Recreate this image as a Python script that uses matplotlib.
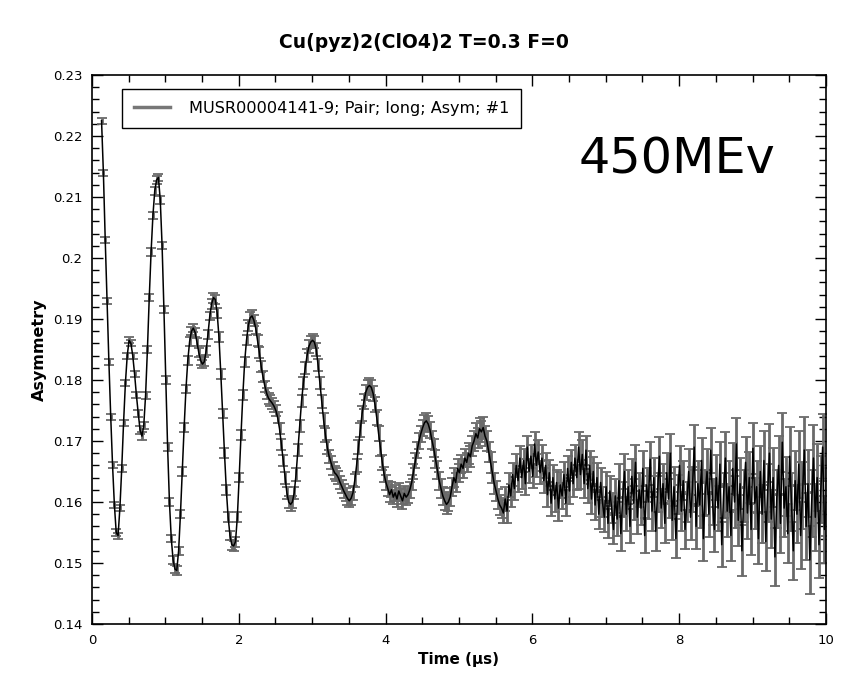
import numpy as np
import matplotlib
matplotlib.use('Agg')
import matplotlib.pyplot as plt
from matplotlib.ticker import MultipleLocator
from matplotlib.lines import Line2D

TITLE = 'Cu(pyz)2(ClO4)2 T=0.3 F=0'
RUN_LABEL = 'MUSR00004141-9; Pair; long; Asym; #1'
NOTE = '450MEv'

# time bins (us): first bin and bin width
t_first = 0.13
t_step = 0.025

# asymmetry, one row per 0.5 us
asym = [
    0.2225, 0.2140, 0.2030, 0.1930, 0.1830, 0.1740, 0.1660, 0.1595, 0.1550, 0.1545, 0.1590, 0.1655, 0.1730, 0.1795, 0.1840, 0.1865, 0.1860, 0.1840, 0.1810, 0.1775,
    0.1745, 0.1718, 0.1708, 0.1725, 0.1775, 0.1850, 0.1935, 0.2010, 0.2070, 0.2110, 0.2128, 0.2132, 0.2095, 0.2020, 0.1915, 0.1800, 0.1690, 0.1600, 0.1540, 0.1505,
    0.1490, 0.1488, 0.1520, 0.1580, 0.1650, 0.1722, 0.1785, 0.1832, 0.1863, 0.1880, 0.1885, 0.1878, 0.1862, 0.1845, 0.1832, 0.1826, 0.1830, 0.1848, 0.1875, 0.1905,
    0.1925, 0.1935, 0.1932, 0.1910, 0.1870, 0.1810, 0.1745, 0.1680, 0.1620, 0.1575, 0.1545, 0.1530, 0.1528, 0.1535, 0.1575, 0.1640, 0.1710, 0.1775, 0.1830, 0.1865,
    0.1890, 0.1902, 0.1905, 0.1898, 0.1885, 0.1865, 0.1845, 0.1822, 0.1805, 0.1790, 0.1778, 0.1770, 0.1766, 0.1762, 0.1757, 0.1750, 0.1738, 0.1720, 0.1695, 0.1668,
    0.1640, 0.1615, 0.1600, 0.1596, 0.1600, 0.1615, 0.1645, 0.1685, 0.1725, 0.1765, 0.1795, 0.1820, 0.1840, 0.1855, 0.1862, 0.1865, 0.1862, 0.1850, 0.1825, 0.1795,
    0.1765, 0.1735, 0.1710, 0.1690, 0.1675, 0.1665, 0.1655, 0.1648, 0.1645, 0.1640, 0.1632, 0.1625, 0.1618, 0.1612, 0.1606, 0.1602, 0.1606, 0.1615, 0.1635, 0.1660,
    0.1690, 0.1718, 0.1745, 0.1765, 0.1780, 0.1788, 0.1791, 0.1788, 0.1778, 0.1760, 0.1738, 0.1712, 0.1688, 0.1665, 0.1645, 0.1632, 0.1622, 0.1612, 0.1620, 0.1608,
    0.1615, 0.1605, 0.1618, 0.1610, 0.1602, 0.1614, 0.1608, 0.1612, 0.1620, 0.1632, 0.1650, 0.1668, 0.1685, 0.1700, 0.1712, 0.1722, 0.1730, 0.1733, 0.1728, 0.1718,
    0.1702, 0.1688, 0.1670, 0.1652, 0.1635, 0.1622, 0.1610, 0.1602, 0.1596, 0.1600, 0.1608, 0.1625, 0.1640, 0.1632, 0.1655, 0.1648, 0.1662, 0.1655, 0.1672, 0.1665,
    0.1680, 0.1674, 0.1692, 0.1700, 0.1712, 0.1705, 0.1720, 0.1715, 0.1722, 0.1708, 0.1700, 0.1682, 0.1665, 0.1648, 0.1630, 0.1618, 0.1605, 0.1595, 0.1590, 0.1582,
    0.1605, 0.1585, 0.1628, 0.1610, 0.1645, 0.1622, 0.1660, 0.1635, 0.1672, 0.1640, 0.1668, 0.1630, 0.1690, 0.1650, 0.1675, 0.1642, 0.1695, 0.1660, 0.1682, 0.1648,
    0.1672, 0.1635, 0.1660, 0.1612, 0.1648, 0.1598, 0.1640, 0.1605, 0.1632, 0.1590, 0.1628, 0.1610, 0.1645, 0.1598, 0.1655, 0.1618, 0.1665, 0.1630, 0.1672, 0.1640,
    0.1690, 0.1645, 0.1678, 0.1630, 0.1685, 0.1622, 0.1660, 0.1605, 0.1650, 0.1595, 0.1640, 0.1580, 0.1632, 0.1600, 0.1575, 0.1625, 0.1565, 0.1618, 0.1590, 0.1555,
    0.1610, 0.1572, 0.1635, 0.1548, 0.1605, 0.1650, 0.1580, 0.1625, 0.1560, 0.1642, 0.1598, 0.1665, 0.1575, 0.1620, 0.1590, 0.1655, 0.1545, 0.1628, 0.1600, 0.1670,
    0.1585, 0.1640, 0.1552, 0.1615, 0.1675, 0.1590, 0.1630, 0.1565, 0.1648, 0.1605, 0.1680, 0.1570, 0.1625, 0.1540, 0.1612, 0.1660, 0.1585, 0.1635, 0.1555, 0.1600,
    0.1650, 0.1575, 0.1620, 0.1690, 0.1560, 0.1630, 0.1595, 0.1668, 0.1540, 0.1615, 0.1650, 0.1580, 0.1685, 0.1600, 0.1555, 0.1640, 0.1590, 0.1662, 0.1530, 0.1610,
    0.1672, 0.1585, 0.1625, 0.1545, 0.1655, 0.1600, 0.1695, 0.1570, 0.1630, 0.1520, 0.1610, 0.1665, 0.1582, 0.1640, 0.1555, 0.1688, 0.1598, 0.1625, 0.1540, 0.1650,
    0.1580, 0.1668, 0.1535, 0.1615, 0.1680, 0.1572, 0.1640, 0.1510, 0.1605, 0.1660, 0.1565, 0.1698, 0.1590, 0.1625, 0.1548, 0.1675, 0.1600, 0.1520, 0.1635, 0.1580,
    0.1662, 0.1545, 0.1610, 0.1685, 0.1560, 0.1630, 0.1505, 0.1598, 0.1672, 0.1575, 0.1640, 0.1530, 0.1620, 0.1690, 0.1555, 0.1600,
]

# error bar half-size, one value per 0.5 us row above
err_rows = [0.0005, 0.0006, 0.0007, 0.0008, 0.0009, 0.0010, 0.0011, 0.0012, 0.0013, 0.0015,
            0.0017, 0.0019, 0.0021, 0.0024, 0.0028, 0.0032, 0.0037, 0.0042, 0.0048, 0.0055]

asym = np.array(asym)
time = t_first + t_step * np.arange(len(asym))
err = np.array([err_rows[i // 20] for i in range(len(asym))])

fig = plt.figure(figsize=(8.48, 6.84), dpi=100)
ax = fig.add_axes([0.1085, 0.0877, 0.8655, 0.8027])

ax.errorbar(time, asym, yerr=err, fmt='none', ecolor='#6a6a6a', elinewidth=2.0,
            capsize=3.5, capthick=1.3, zorder=2)
ax.plot(time, asym, color='black', lw=1.1, zorder=3)

ax.set_xlim(0, 10)
ax.set_ylim(0.14, 0.23)
ax.xaxis.set_major_locator(MultipleLocator(2))
ax.xaxis.set_minor_locator(MultipleLocator(0.5))
ax.yaxis.set_major_locator(MultipleLocator(0.01))
ax.yaxis.set_minor_locator(MultipleLocator(0.002))
ax.yaxis.set_major_formatter(plt.FuncFormatter(lambda v, p: '%g' % round(v, 3)))
ax.tick_params(which='both', direction='in', top=True, right=True, labelsize=9.5, width=1)
ax.tick_params(which='major', length=8, pad=7)
ax.tick_params(which='minor', length=5)
for s in ax.spines.values():
    s.set_linewidth(1.2)

ax.set_xlabel('Time (μs)', fontsize=11, fontweight='bold', labelpad=4)
ax.set_ylabel('Asymmetry', fontsize=11.5, fontweight='bold', labelpad=4)
fig.text(0.5, 0.938, TITLE, ha='center', va='center', fontsize=13.5, fontweight='bold')

handle = Line2D([], [], color='#777777', lw=2.5)
leg = ax.legend([handle], [RUN_LABEL], loc='upper left', bbox_to_anchor=(0.03, 0.99),
                fontsize=11.6, fancybox=False, framealpha=1, edgecolor='black',
                handlelength=2.2, borderpad=0.75, handletextpad=1.2)
leg.get_frame().set_linewidth(1.0)

fig.text(0.682, 0.746, NOTE, fontsize=35.5, ha='left', va='baseline')

fig.savefig('out.png', dpi=100)
